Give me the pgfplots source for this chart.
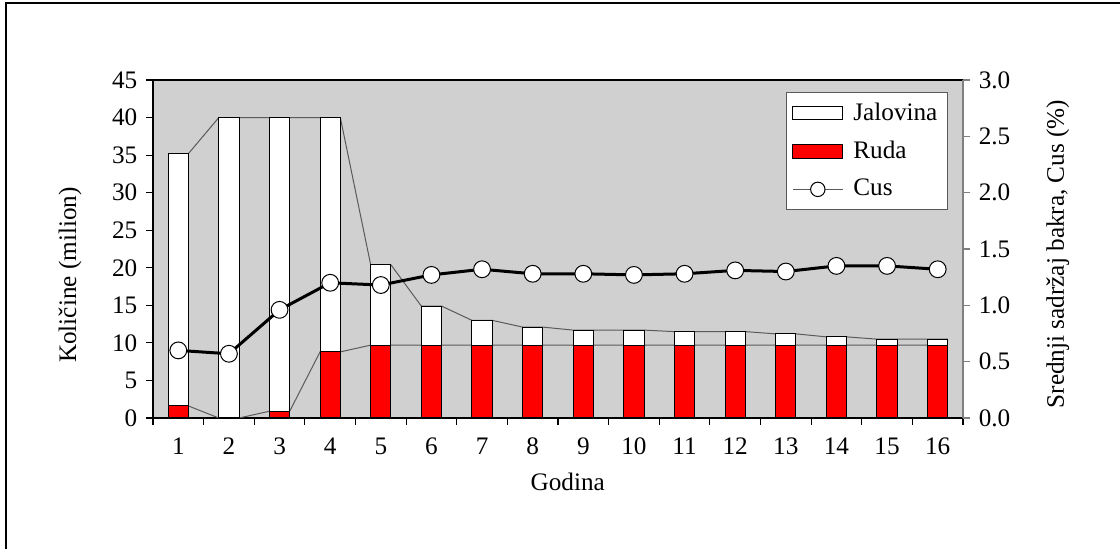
\documentclass[border=0pt]{standalone}
\usepackage{fontspec}
\setmainfont{Liberation Serif}
\usepackage{pgfplots}
\usepackage{pgfplotstable}
\pgfplotsset{compat=1.18}
\definecolor{bg}{RGB}{208,208,208}
\definecolor{sl}{RGB}{90,90,90}
\definecolor{ax2}{RGB}{128,128,128}

\pgfplotstableread{
x ruda jal cus
1 1.6 33.6 0.60
2 0 40 0.57
3 0.9 39.1 0.96
4 8.8 31.2 1.20
5 9.7 10.7 1.18
6 9.7 5.2 1.27
7 9.7 3.3 1.32
8 9.7 2.4 1.28
9 9.7 2.0 1.28
10 9.7 2.0 1.27
11 9.7 1.8 1.28
12 9.7 1.8 1.31
13 9.7 1.5 1.30
14 9.7 1.1 1.35
15 9.7 0.8 1.35
16 9.7 0.8 1.32
}\data

\newcommand{\fs}{\fontsize{12.6}{14.5}\selectfont}

\begin{document}
\fs
\begin{tikzpicture}
\path[use as bounding box] (0,0) rectangle (560pt,274.5pt);
\draw[line width=0.8pt] (3pt,0) -- (3pt,273pt) -- (560pt,273pt);

\pgfplotsset{
  base/.style={
    scale only axis, width=405pt, height=169pt,
    at={(76.5pt,65.5pt)}, anchor=south west,
    xmin=0.5, xmax=16.5, ymin=0, ymax=45,
    /pgf/number format/assume math mode=true,
    tick label style={font=\fs},
    label style={font=\fs},
  }
}

% background axis with left axis, x axis and series lines
\begin{axis}[base,
  axis background/.style={fill=bg},
  axis line style={black, line width=0.6pt},
  xtick={0.5,1.5,...,16.5},
  x tick label as interval,
  xticklabels={1,2,3,4,5,6,7,8,9,10,11,12,13,14,15,16},
  ytick={0,5,...,45},
  ytick pos=left, xtick pos=bottom,
  tick align=outside, major tick length=3.5pt,
  tick style={black, line width=0.6pt},
  xticklabel style={yshift=-2pt},
  xlabel=Godina, ylabel={Količine (milion)},
  xlabel style={at={(axis description cs:0.512,-0.19)}, anchor=center},
  ylabel style={at={(axis description cs:-0.1025,0.423)}, anchor=center},
]
\addplot[sl, line width=0.5pt] coordinates {(0.8,35.2)(1.2,35.2)(1.8,40)(2.2,40)(2.8,40)(3.2,40)(3.8,40)(4.2,40)(4.8,20.4)(5.2,20.4)(5.8,14.9)(6.2,14.9)(6.8,13.0)(7.2,13.0)(7.8,12.1)(8.2,12.1)(8.8,11.7)(9.2,11.7)(9.8,11.7)(10.2,11.7)(10.8,11.5)(11.2,11.5)(11.8,11.5)(12.2,11.5)(12.8,11.2)(13.2,11.2)(13.8,10.8)(14.2,10.8)(14.8,10.5)(15.2,10.5)(15.8,10.5)(16.2,10.5)};
\addplot[sl, line width=0.5pt] coordinates {(0.8,1.6)(1.2,1.6)(1.8,0)(2.2,0)(2.8,0.9)(3.2,0.9)(3.8,8.8)(4.2,8.8)(4.8,9.7)(5.2,9.7)(5.8,9.7)(6.2,9.7)(6.8,9.7)(7.2,9.7)(7.8,9.7)(8.2,9.7)(8.8,9.7)(9.2,9.7)(9.8,9.7)(10.2,9.7)(10.8,9.7)(11.2,9.7)(11.8,9.7)(12.2,9.7)(12.8,9.7)(13.2,9.7)(13.8,9.7)(14.2,9.7)(14.8,9.7)(15.2,9.7)(15.8,9.7)(16.2,9.7)};
\end{axis}

% bars
\begin{axis}[base, hide axis, ybar stacked, bar width=0.4]
\addplot[fill=red, draw=black, line width=0.5pt] table[x=x,y=ruda]{\data};
\addplot[fill=white, draw=black, line width=0.5pt] table[x=x,y=jal]{\data};
\end{axis}

% right axis
\begin{axis}[base, ymin=0, ymax=3,
  axis x line=none, axis y line*=right,
  y axis line style={draw=ax2, line width=0.8pt},
  ytick={0,0.5,...,3},
  yticklabel style={/pgf/number format/.cd, fixed, fixed zerofill, precision=1},
  tick align=outside, major tick length=3.5pt,
  tick style={ax2, line width=0.6pt},
  ylabel={Srednji sadržaj bakra, Cus (\%)},
  ylabel style={at={(axis description cs:1.117,0.485)}, anchor=center},
  legend style={at={(axis description cs:1,1)}, anchor=north east, xshift=-7.5pt, yshift=-6pt,
    draw=sl, line width=0.6pt, fill=white, font=\fs,
    row sep=4.5pt, inner xsep=3pt, inner ysep=3pt,
    /tikz/every odd column/.append style={column sep=3pt}},
  legend cell align=left,
]
\addlegendimage{legend image code/.code={\draw[fill=white,draw=black,line width=0.5pt] (0pt,-3.2pt) rectangle (25pt,3.2pt);}}
\addlegendentry{Jalovina}
\addlegendimage{legend image code/.code={\draw[fill=red,draw=black,line width=0.5pt] (0pt,-3.6pt) rectangle (25pt,3.6pt);}}
\addlegendentry{Ruda}
\addplot[black, line width=1.5pt, mark=*, mark size=4.2pt,
  mark options={fill=white, draw=black, line width=0.5pt},
  legend image code/.code={\draw[sl, line width=0.6pt] (0pt,0pt) -- (25pt,0pt); \draw[fill=white, draw=black, line width=0.5pt] (12.5pt,0pt) circle (3.6pt);}]
  table[x=x,y=cus]{\data};
\addlegendentry{Cus}
\end{axis}
\end{tikzpicture}
\end{document}
